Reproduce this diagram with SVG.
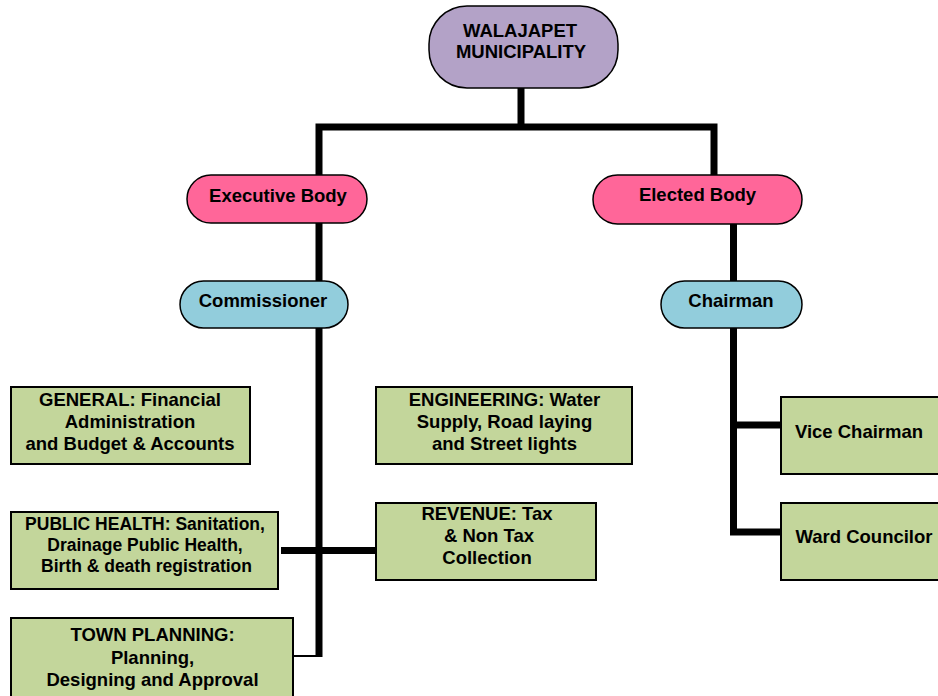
<svg xmlns="http://www.w3.org/2000/svg" width="938" height="696" viewBox="0 0 938 696">
<style>
text{font-family:"Liberation Sans",Arial,sans-serif;font-weight:bold;font-size:18.5px;fill:#000;text-anchor:middle}
.sm{font-size:17.5px}
.pill{stroke:#000;stroke-width:1.5}
.box{fill:#C3D69B;stroke:#000;stroke-width:2}
.con{fill:none;stroke:#000;stroke-width:7;stroke-linejoin:miter;stroke-linecap:butt}
.thin{fill:none;stroke:#000;stroke-width:2}
</style>
<rect width="938" height="696" fill="#fff"/>
<g id="connectors">
<path class="con" d="M521,88 V127"/>
<path class="con" d="M319,657 V127 H714 V175"/>
<path class="con" d="M733.5,224 V532 H781"/>
<path class="con" d="M733.5,425 H781"/>
<path class="con" d="M281,550.5 H376"/>
<path class="thin" d="M294,656 H322"/>
</g>
<g id="walajapet">
<rect class="pill" x="429" y="6" width="189" height="82" rx="38" fill="#B3A2C7"/>
<text x="520" y="37">WALAJAPET</text>
<text x="521" y="58">MUNICIPALITY</text>
</g>
<g id="executive">
<rect class="pill" x="187" y="175" width="180" height="48" rx="24" fill="#FF6699"/>
<text x="278" y="202">Executive Body</text>
</g>
<g id="elected">
<rect class="pill" x="593" y="175" width="209" height="49" rx="24.5" fill="#FF6699"/>
<text x="697.5" y="201">Elected Body</text>
</g>
<g id="commissioner">
<rect class="pill" x="180" y="281" width="168" height="47" rx="23.5" fill="#92CDDC"/>
<text x="263" y="307">Commissioner</text>
</g>
<g id="chairman">
<rect class="pill" x="661" y="281" width="141" height="47" rx="23.5" fill="#92CDDC"/>
<text x="731" y="307">Chairman</text>
</g>
<g id="general">
<rect class="box" x="11" y="387" width="239" height="77"/>
<text x="130" y="406">GENERAL: Financial</text>
<text x="130" y="428">Administration</text>
<text x="130" y="450">and Budget &amp; Accounts</text>
</g>
<g id="engineering">
<rect class="box" x="376" y="387" width="256" height="77"/>
<text x="504.5" y="406">ENGINEERING: Water</text>
<text x="504.5" y="428">Supply, Road laying</text>
<text x="504.5" y="450">and Street lights</text>
</g>
<g id="publichealth">
<rect class="box" x="11" y="512" width="267" height="77"/>
<text class="sm" x="145" y="530">PUBLIC HEALTH: Sanitation,</text>
<text class="sm" x="145" y="551">Drainage Public Health,</text>
<text class="sm" x="146.5" y="572">Birth &amp; death registration</text>
</g>
<g id="revenue">
<rect class="box" x="376" y="503" width="220" height="77"/>
<text x="487" y="520">REVENUE: Tax</text>
<text x="489" y="542">&amp; Non Tax</text>
<text x="487" y="564">Collection</text>
</g>
<g id="townplanning">
<rect class="box" x="11" y="618" width="282" height="80"/>
<text x="152.5" y="641">TOWN PLANNING:</text>
<text x="152.5" y="664">Planning,</text>
<text x="152.5" y="686">Designing and Approval</text>
</g>
<g id="vicechairman">
<rect class="box" x="781" y="397" width="162" height="77"/>
<text x="859" y="438">Vice Chairman</text>
</g>
<g id="wardcouncilor">
<rect class="box" x="781" y="503" width="162" height="77"/>
<text x="864" y="543">Ward Councilor</text>
</g>
</svg>
